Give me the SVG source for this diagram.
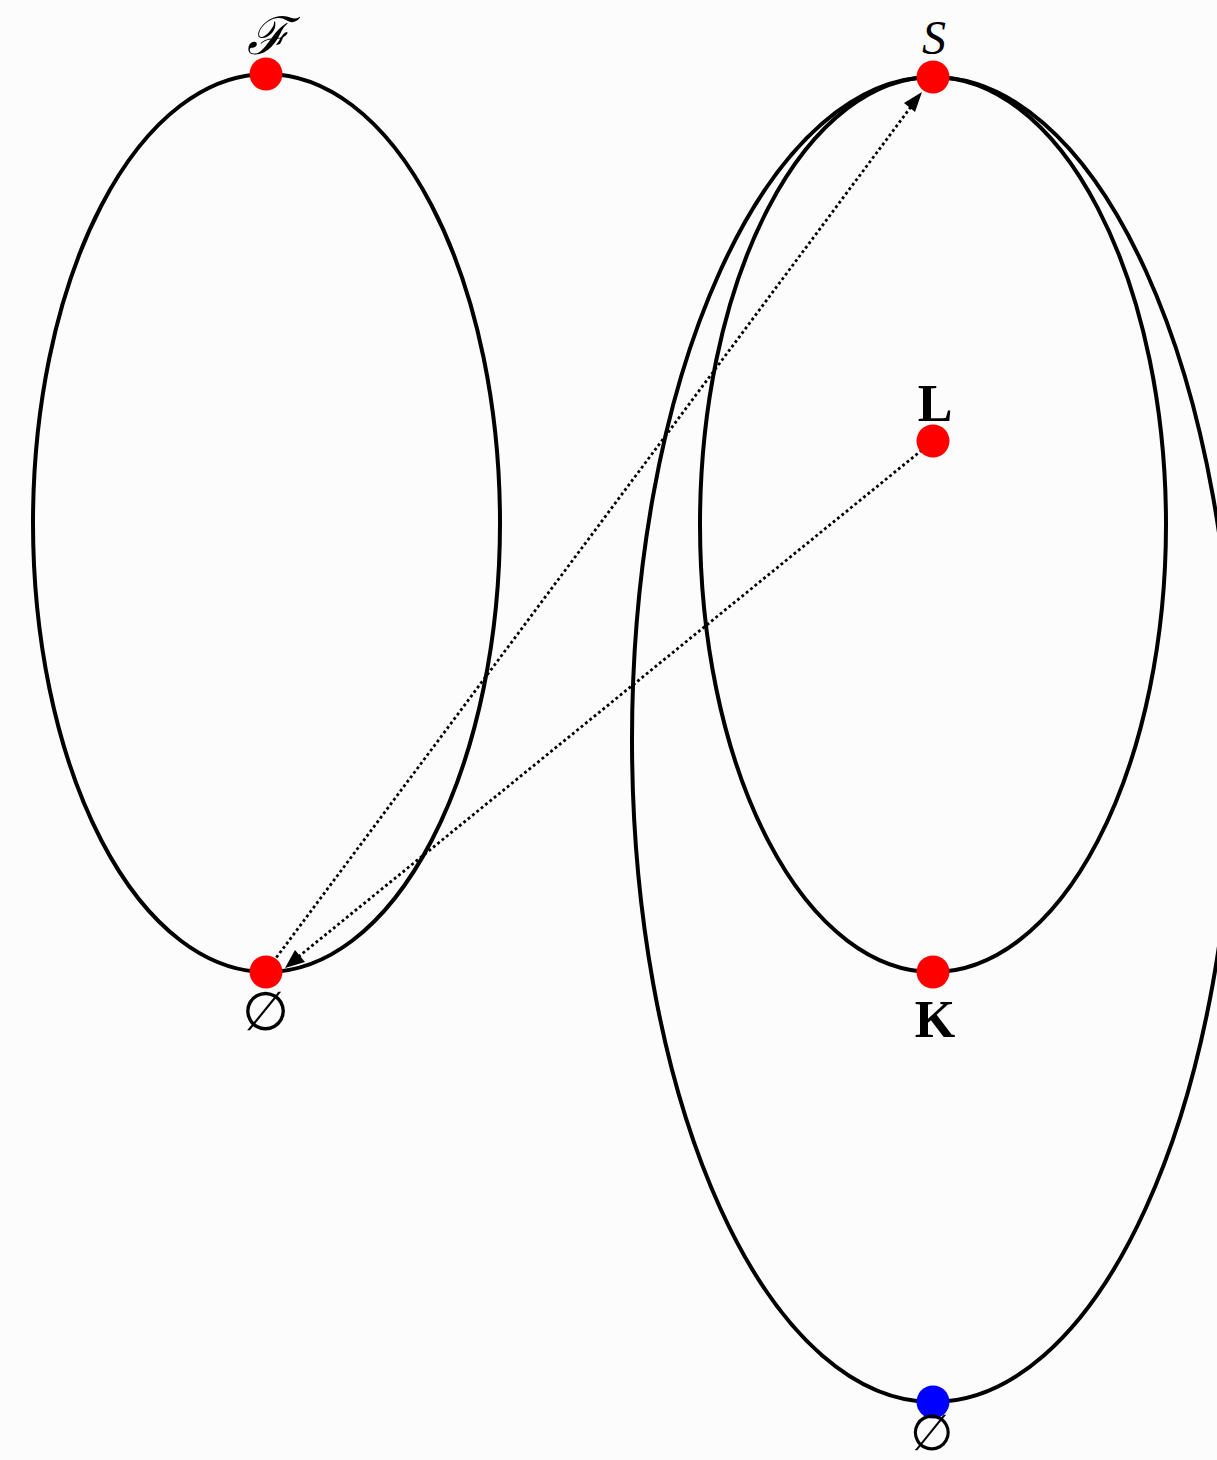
<svg xmlns="http://www.w3.org/2000/svg" width="1217" height="1460" viewBox="0 0 1217 1460">
<style>
.ell{fill:none;stroke:#000;stroke-width:4}
.dot{stroke:none}
.red{fill:#ff0000}
.blue{fill:#0000ff}
.conn{fill:none;stroke:#000;stroke-width:2.8;stroke-dasharray:2.8 2.8}
.lbl{font-family:"Liberation Serif","DejaVu Serif",serif;font-size:44px;fill:#000;text-anchor:middle}
.it{font-style:italic}
.bf{font-weight:bold;font-size:52px}
.es{font-size:54px}
</style>
<rect width="1217" height="1460" fill="#fcfcfc"/>
<g id="shapes">
<ellipse id="left-ellipse" class="ell" cx="266.5" cy="523" rx="233.5" ry="449"/>
<ellipse id="inner-ellipse" class="ell" cx="933" cy="524.5" rx="233" ry="447.5"/>
<ellipse id="outer-ellipse" class="ell" cx="933" cy="739.5" rx="301" ry="662.5"/>
</g>
<g id="connectors">
<line class="conn" x1="273" y1="962" x2="916" y2="100"/>
<path d="M922,92 L904,103 L915,112 Z" fill="#000"/>
<line class="conn" x1="922" y1="450" x2="292" y2="962"/>
<path d="M285,968 L295,950 L305,962 Z" fill="#000"/>
</g>
<g id="node-F">
<circle class="dot red" cx="266" cy="74" r="16.5"/>
<text class="lbl it" x="268" y="54" style="font-size:52px">ℱ</text>
</g>
<g id="node-S">
<circle class="dot red" cx="933" cy="77" r="16.5"/>
<text class="lbl it" x="934" y="54" style="font-size:48px">S</text>
</g>
<g id="node-L">
<circle class="dot red" cx="933" cy="441" r="16.5"/>
<text class="lbl bf" x="935" y="421">L</text>
</g>
<g id="node-K">
<circle class="dot red" cx="933" cy="972" r="16.5"/>
<text class="lbl bf" x="935" y="1037">K</text>
</g>
<g id="node-empty-left">
<circle class="dot red" cx="266" cy="972" r="16.5"/>
<text class="lbl es" x="265" y="1030">∅</text>
</g>
<g id="node-empty-bottom">
<circle class="dot blue" cx="933" cy="1402" r="16.5"/>
<text class="lbl es" x="932" y="1450" style="font-size:50px">∅</text>
</g>
</svg>
